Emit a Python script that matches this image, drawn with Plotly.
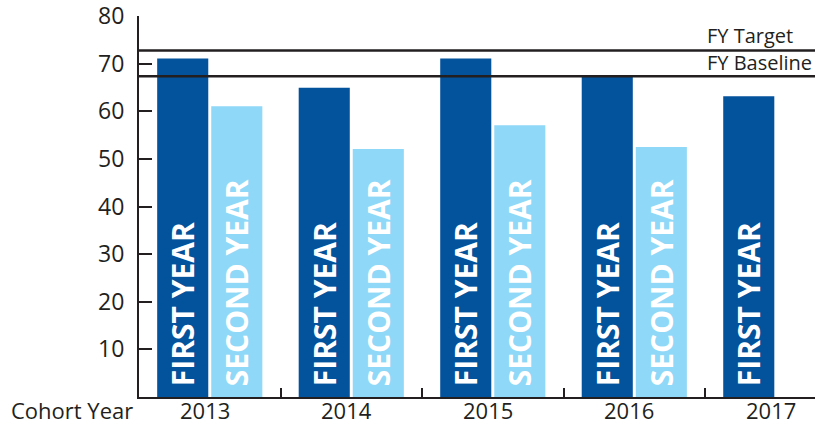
import plotly.graph_objects as go

# data
years = ["2013", "2014", "2015", "2016", "2017"]
first_year = [71.1, 65.0, 71.1, 67.4, 63.2]
second_year = [61.1, 52.1, 57.1, 52.5, None]
fy_target = 72.8
fy_baseline = 67.4
y_ticks = [10, 20, 30, 40, 50, 60, 70, 80]

DARK = "#03529C"
LIGHT = "#8FD8F7"
INK = "#231F20"
FONT = "Open Sans"

pos = list(range(len(years)))

fig = go.Figure()

fig.add_trace(go.Bar(
    x=pos, y=first_year, marker_color=DARK, marker_line_width=0,
    text=["\u00a0FIRST YEAR" if v is not None else "" for v in first_year],
    textposition="inside", insidetextanchor="start", textangle=-90,
    insidetextfont=dict(family=FONT, size=30, color="white", weight="bold"),
    hoverinfo="skip",
))
fig.add_trace(go.Bar(
    x=pos, y=second_year, marker_color=LIGHT, marker_line_width=0,
    text=["\u00a0SECOND YEAR" if v is not None else "" for v in second_year],
    textposition="inside", insidetextanchor="start", textangle=-90,
    insidetextfont=dict(family=FONT, size=30, color="white", weight="bold"),
    hoverinfo="skip",
))

# target / baseline reference lines
for val, label, shift in [(fy_target, "FY Target", 0), (fy_baseline, "FY Baseline", -2)]:
    fig.add_shape(type="line", xref="paper", yref="y", x0=0, x1=1, y0=val, y1=val,
                  line=dict(color=INK, width=2.5))
    fig.add_annotation(xref="paper", yref="y", x=0.838, y=val, text=label,
                       showarrow=False, xanchor="left", yanchor="bottom", yshift=shift,
                       font=dict(family=FONT, size=20, color=INK))

# year labels under the axis (sit a bit higher than plotly's tick labels would)
for p, yr in zip(pos, years):
    fig.add_annotation(xref="x", yref="paper", x=p - 0.035, y=0, yshift=-13,
                       text=yr, showarrow=False, xanchor="center", yanchor="middle",
                       borderpad=0, font=dict(family=FONT, size=22, color=INK))

fig.add_annotation(xref="paper", yref="paper", x=-0.008, y=0, yshift=-13,
                   text="Cohort Year", showarrow=False, xanchor="right", yanchor="middle",
                   borderpad=0, font=dict(family=FONT, size=22, color=INK))

fig.update_layout(
    width=816, height=425,
    margin=dict(l=139, r=1, t=16, b=28),
    plot_bgcolor="white", paper_bgcolor="white",
    barmode="group", bargap=0.236, bargroupgap=0.055,
    showlegend=False,
    font=dict(family=FONT, color=INK),
    xaxis=dict(
        range=[-0.5, 4.277], automargin=False,
        tickmode="array", tickvals=[0.5, 1.5, 2.5, 3.5, 4.27], showticklabels=False,
        ticks="inside", ticklen=9, tickwidth=2, tickcolor=INK,
        showgrid=False, zeroline=False,
        showline=True, linecolor=INK, linewidth=2,
    ),
    yaxis=dict(
        range=[0, 80.05], tickvals=y_ticks, automargin=False,
        ticks="inside", ticklen=13, tickwidth=2, tickcolor=INK,
        showgrid=False, zeroline=False,
        showline=True, linecolor=INK, linewidth=2,
        ticklabelstandoff=8, ticklabeloverflow="allow",
        tickfont=dict(family=FONT, size=23, color=INK),
    ),
)

# drop the default 8px page margin so the figure fills the window exactly
fig.write_html("out.html", config={"displayModeBar": False},
               post_script="document.body.style.margin='0';")
